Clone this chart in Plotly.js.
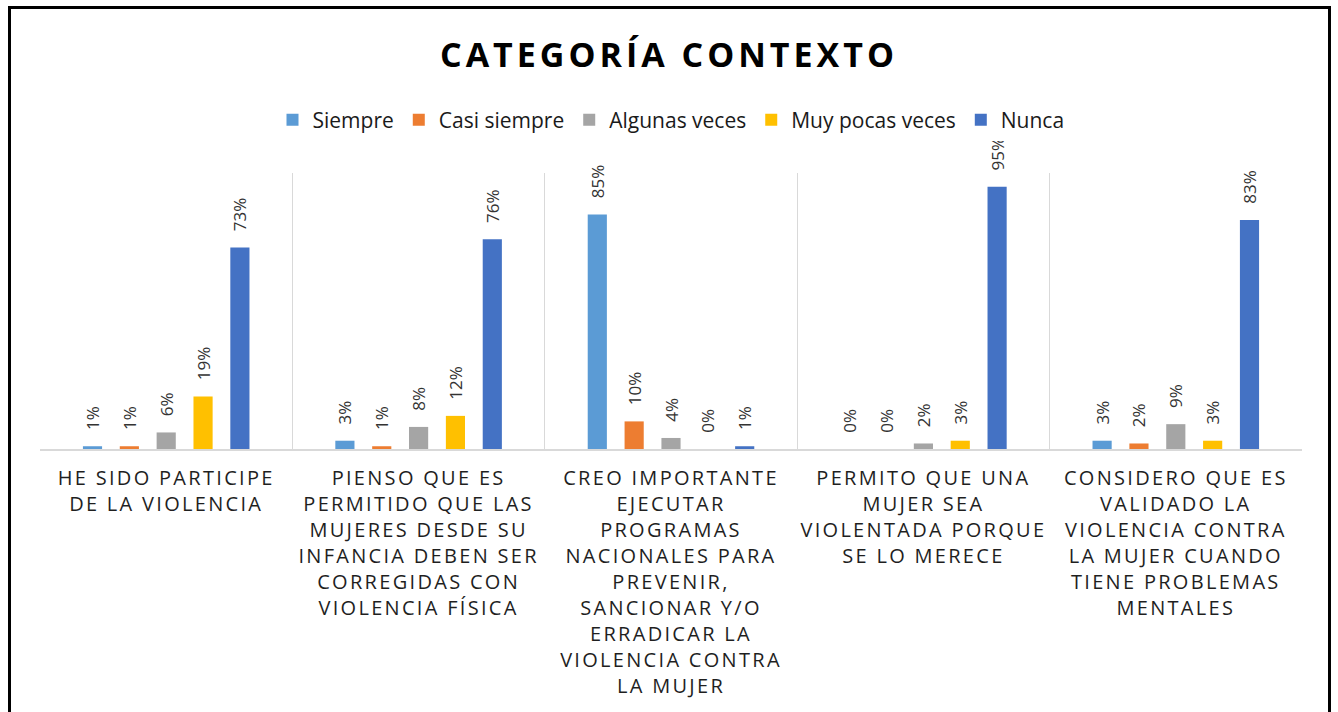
<!DOCTYPE html>
<html>
<head>
<meta charset="utf-8">
<script src="https://cdn.plot.ly/plotly-3.0.1.min.js"></script>
<style>
  html, body { margin: 0; padding: 0; background: #ffffff; }
  #chart { position: absolute; left: 0; top: 0; width: 1338px; height: 712px; }
  #frame { position: absolute; left: 8px; top: 6px; width: 1323px; height: 730px;
           border: 3px solid #000; box-sizing: border-box; pointer-events: none; }
  #chart .xtick text { letter-spacing: 2.3px; }
  #chart .gtitle { letter-spacing: 4px; }
</style>
</head>
<body>
<div id="chart"></div>
<div id="frame"></div>
<script>
// ---- data ----
const categories = [
  "HE SIDO PARTICIPE<br>DE LA VIOLENCIA",
  "PIENSO QUE ES<br>PERMITIDO QUE LAS<br>MUJERES DESDE SU<br>INFANCIA DEBEN SER<br>CORREGIDAS CON<br>VIOLENCIA FÍSICA",
  "CREO IMPORTANTE<br>EJECUTAR<br>PROGRAMAS<br>NACIONALES PARA<br>PREVENIR,<br>SANCIONAR Y/O<br>ERRADICAR LA<br>VIOLENCIA CONTRA<br>LA MUJER",
  "PERMITO QUE UNA<br>MUJER SEA<br>VIOLENTADA PORQUE<br>SE LO MERECE",
  "CONSIDERO QUE ES<br>VALIDADO LA<br>VIOLENCIA CONTRA<br>LA MUJER CUANDO<br>TIENE PROBLEMAS<br>MENTALES"
];
const seriesNames = ["Siempre", "Casi siempre", "Algunas veces", "Muy pocas veces", "Nunca"];
const siempre      = [1, 3, 85, 0, 3];
const casiSiempre  = [1, 1, 10, 0, 2];
const algunasVeces = [6, 8, 4, 2, 9];
const muyPocas     = [19, 12, 0, 3, 3];
const nunca        = [73, 76, 1, 95, 83];
const seriesValues = [siempre, casiSiempre, algunasVeces, muyPocas, nunca];
const seriesColors = ["#5B9BD5", "#ED7D31", "#A5A5A5", "#FFC000", "#4472C4"];

const FONT = "'Open Sans', 'Noto Sans', 'DejaVu Sans', sans-serif";

const traces = seriesNames.map((name, i) => ({
  type: "bar",
  name: name,
  x: categories,
  y: seriesValues[i],
  marker: { color: seriesColors[i] },
  texttemplate: "\u00A0\u00A0\u00A0%{y}%",
  textposition: "outside",
  textangle: -90,
  constraintext: "none",
  cliponaxis: false,
  textfont: { family: FONT, size: 17, color: "#333333" },
  hoverinfo: "skip"
}));

const layout = {
  width: 1338,
  height: 712,
  paper_bgcolor: "#ffffff",
  plot_bgcolor: "#ffffff",
  margin: { l: 40, r: 36, t: 173, b: 263, pad: 0 },
  barmode: "group",
  bargap: 0.27,
  bargroupgap: 0.48,
  font: { family: FONT, color: "#262626" },
  title: {
    text: "<b>CATEGORÍA CONTEXTO</b>",
    font: { family: FONT, size: 34, color: "#000000" },
    x: 0.5, xanchor: "center",
    yref: "container", y: 1 - 55 / 712, yanchor: "middle"
  },
  showlegend: true,
  legend: {
    orientation: "h",
    x: 0.5, xanchor: "center",
    yref: "container", y: 1 - 120 / 712, yanchor: "middle",
    font: { family: FONT, size: 21, color: "#1a1a1a" },
    itemclick: false, itemdoubleclick: false,
    traceorder: "normal"
  },
  xaxis: {
    type: "category",
    tickson: "boundaries",
    showgrid: true,
    gridcolor: "#D9D9D9",
    gridwidth: 1,
    showline: true,
    linecolor: "#D9D9D9",
    linewidth: 2,
    ticks: "",
    ticklabelstandoff: 10,
    tickfont: { family: FONT, size: 20, color: "#1f1f1f" },
    tickangle: 0,
    fixedrange: true
  },
  yaxis: {
    range: [0, 100],
    showgrid: false,
    zeroline: false,
    showticklabels: false,
    ticks: "",
    showline: false,
    fixedrange: true
  }
};

Plotly.newPlot("chart", traces, layout, { displayModeBar: false, staticPlot: true });
</script>
</body>
</html>
